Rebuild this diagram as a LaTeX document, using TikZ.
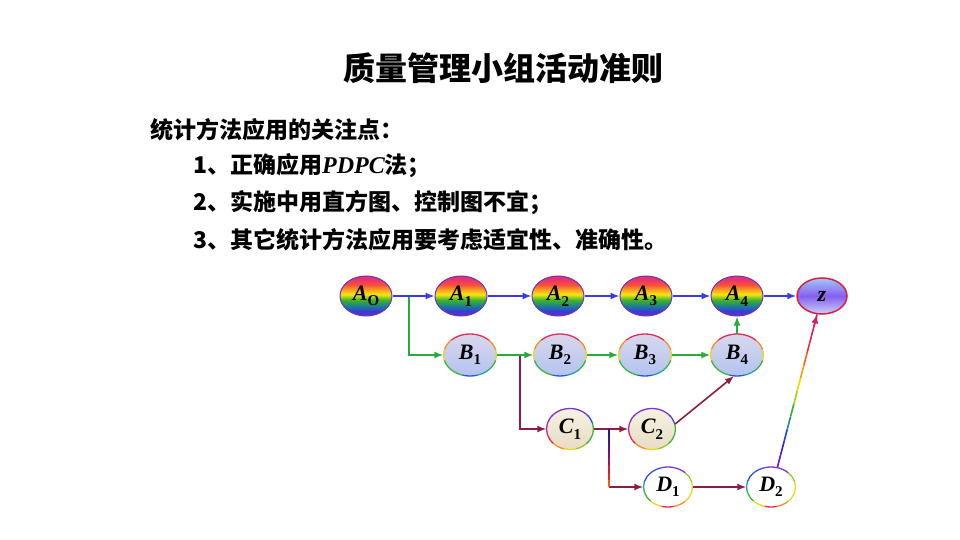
\documentclass[tikz,border=0pt]{standalone}
\usepackage{fontspec}
\setmainfont{Noto Sans CJK SC}
\newfontfamily\lblfont{Liberation Serif}
\usetikzlibrary{shapes.geometric,arrows.meta,calc}

% rainbow fill colours for A nodes (bottom to top)
\definecolor{a1}{RGB}{120,40,190}
\definecolor{a2}{RGB}{50,60,220}
\definecolor{a3}{RGB}{30,130,140}
\definecolor{a4}{RGB}{60,180,40}
\definecolor{a5}{RGB}{245,230,20}
\definecolor{a6}{RGB}{250,160,30}
\definecolor{a7}{RGB}{245,80,60}
\definecolor{a8}{RGB}{230,50,110}
\pgfdeclareverticalshading{rainA}{100bp}{color(0bp)=(a1); color(25bp)=(a1); color(31bp)=(a2); color(38bp)=(a3); color(45bp)=(a4); color(52bp)=(a5); color(58bp)=(a6); color(64bp)=(a7); color(71bp)=(a8); color(100bp)=(a8)}

% ring colours
\definecolor{rR}{RGB}{230,40,90}
\definecolor{rO}{RGB}{250,140,40}
\definecolor{rY}{RGB}{235,215,30}
\definecolor{rL}{RGB}{150,200,40}
\definecolor{rG}{RGB}{60,180,60}
\definecolor{rC}{RGB}{40,160,160}
\definecolor{rB}{RGB}{50,80,220}
\definecolor{rV}{RGB}{130,50,200}
\definecolor{rM}{RGB}{200,40,150}

% connector colours
\definecolor{cblue}{RGB}{60,60,230}
\definecolor{cgreen}{RGB}{40,170,60}
\definecolor{cmar}{RGB}{140,30,70}
\definecolor{aborder}{RGB}{110,50,190}
\definecolor{zborder}{RGB}{220,30,60}
\definecolor{ztip}{RGB}{210,30,110}

% gradient line colours
\definecolor{g1}{RGB}{110,20,200}
\definecolor{g2}{RGB}{70,30,215}
\definecolor{g3}{RGB}{40,60,220}
\definecolor{g4}{RGB}{30,140,150}
\definecolor{g5}{RGB}{40,180,60}
\definecolor{g6}{RGB}{160,210,20}
\definecolor{g7}{RGB}{240,220,0}
\definecolor{g8}{RGB}{250,160,0}
\definecolor{g9}{RGB}{245,100,20}
\definecolor{g10}{RGB}{235,50,50}
\definecolor{g11}{RGB}{220,30,90}
\definecolor{g12}{RGB}{210,30,110}
\definecolor{v1}{RGB}{40,20,150}
\definecolor{v2}{RGB}{60,20,140}
\definecolor{v3}{RGB}{90,20,130}
\definecolor{v4}{RGB}{120,20,120}
\definecolor{v5}{RGB}{160,20,100}
\definecolor{v6}{RGB}{200,30,70}
\definecolor{v7}{RGB}{235,40,30}
\definecolor{v8}{RGB}{245,90,20}

\newcommand\lbl{\lblfont\fontsize{22}{24}\selectfont}
\newcommand\lab[2]{\raisebox{-0.12em}{{\bfseries\itshape #1}\raisebox{-0.25em}{\bfseries\fontsize{15}{15}\selectfont #2}}}
\newcommand\ring[4]{%
  \foreach \col [count=\k from 0] in {#4} {%
    \pgfmathsetmacro\sa{\k*30-15}%
    \draw[\col, line width=1.3pt] ($(#1.center)+(\sa:#2 and #3)$)
      arc[start angle=\sa, delta angle=30, x radius=#2, y radius=#3];
  }}

\tikzset{
  nodeA/.style={ellipse, inner sep=0pt, minimum width=52pt, minimum height=40pt,
    shade, shading=rainA, draw=aborder, line width=1pt, font=\lbl},
  nodeB/.style={ellipse, inner sep=0pt, minimum width=53pt, minimum height=42pt,
    top color={rgb,255:red,215;green,215;blue,235}, bottom color={rgb,255:red,180;green,195;blue,242}, font=\lbl},
  nodeC/.style={ellipse, inner sep=0pt, minimum width=47pt, minimum height=41pt,
    top color={rgb,255:red,246;green,241;blue,226}, bottom color={rgb,255:red,232;green,220;blue,195}, font=\lbl},
  nodeD/.style={ellipse, inner sep=0pt, minimum width=49pt, minimum height=40pt,
    fill=white, font=\lbl},
  nodeZ/.style={ellipse, inner sep=0pt, minimum width=50pt, minimum height=36pt,
    top color={rgb,255:red,160;green,200;blue,250}, bottom color={rgb,255:red,200;green,212;blue,250},
    middle color={rgb,255:red,135;green,95;blue,238}, draw=zborder, line width=1.5pt, font=\lbl},
  conn/.style={line width=1.6pt, -{Latex[length=9pt,width=7pt]}},
  bl/.style={conn, draw=cblue},
  gr/.style={conn, draw=cgreen},
  mr/.style={conn, draw=cmar},
  txt/.style={anchor=west, inner sep=0pt, font=\fontsize{23}{27}\selectfont\bfseries},
}

\begin{document}
\begin{tikzpicture}[x=1pt,y=1pt]
\useasboundingbox (0,0) rectangle (960,-540);
\fill[white] (0,0) rectangle (960,-540);

% texts
\node[inner sep=0pt, font=\fontsize{32}{38}\selectfont\bfseries] (title) at (503,-68) {质量管理小组活动准则};
\node[txt] (h0) at (150,-130) {统计方法应用的关注点：};
\node[txt] (h1) at (193,-166) {1、正确应用{\lblfont\bfseries\itshape\fontsize{24}{27}\selectfont PDPC}法；};
\node[txt] (h2) at (193,-203) {2、实施中用直方图、控制图不宜；};
\node[txt] (h3) at (193,-240) {3、其它统计方法应用要考虑适宜性、准确性。};

% nodes
\node[nodeA] (A0) at (366,-296) {\lab{A}{O}};
\node[nodeA] (A1) at (461,-296) {\lab{A}{1}};
\node[nodeA] (A2) at (558,-296) {\lab{A}{2}};
\node[nodeA] (A3) at (646,-296) {\lab{A}{3}};
\node[nodeA] (A4) at (737,-296) {\lab{A}{4}};
\node[nodeZ] (Z) at (822,-296) {{\bfseries\itshape z}};
\node[nodeB] (B1) at (470,-355) {\lab{B}{1}};
\node[nodeB] (B2) at (560,-355) {\lab{B}{2}};
\node[nodeB] (B3) at (645,-355) {\lab{B}{3}};
\node[nodeB] (B4) at (737,-355) {\lab{B}{4}};
\node[nodeC] (C1) at (570,-429) {\lab{C}{1}};
\node[nodeC] (C2) at (652,-429) {\lab{C}{2}};
\node[nodeD] (D1) at (668,-487) {\lab{D}{1}};
\node[nodeD] (D2) at (771,-487) {\lab{D}{2}};

% rainbow rims
\foreach \n in {B1,B2,B3,B4}
  {\ring{\n}{26.5}{21}{rY,rO,rR,rR,rR,rO,rY,rG,rG,rB,rC,rG}}
\foreach \n in {C1,C2}
  {\ring{\n}{23.5}{20.5}{rG,rB,rV,rV,rV,rV,rM,rR,rO,rY,rL,rG}}
\foreach \n in {D1,D2}
  {\ring{\n}{24.5}{20}{rY,rL,rV,rV,rB,rB,rC,rG,rY,rR,rO,rY}}

% junction points
\coordinate (j1) at (409,-296);
\coordinate (j2) at (520,-355);
\coordinate (j3) at (609,-429);
\coordinate (j4) at (609,-487);

% connectors
\draw[gr] (j1) |- (B1.west);
\draw[bl] (A0) -- (A1);
\draw[bl] (A1) -- (A2);
\draw[bl] (A2) -- (A3);
\draw[bl] (A3) -- (A4);
\draw[bl] (A4) -- (Z);
\draw[mr] (j2) |- (C1.west);
\draw[gr] (B1) -- (B2);
\draw[gr] (B2) -- (B3);
\draw[gr] (B3) -- (B4);
\draw[gr] (B4) -- (A4);
\draw[mr] (C1) -- (C2);
\draw[mr] (C2.12) -- (B4.262);
\draw[mr] (j4) -- (D1.west);
\draw[mr] (D1) -- (D2);

% vertical gradient line C1-C2 -> D1
\foreach \c [count=\i from 0, evaluate=\i as \j using \i+1] in {v1,v2,v3,v4,v5,v6,v7,v8}
  {\draw[\c, line width=1.8pt] ($(j3)!\i/8!(j4)$) -- ($(j3)!\j/8!(j4)$);}

% gradient line D2 -> Z
\coordinate (s) at (D2.72);
\coordinate (e) at (Z.255);
\foreach \c [count=\i from 0, evaluate=\i as \j using \i+1] in {g1,g2,g3,g4,g5,g6,g7,g8,g9,g10,g11,g12}
  {\draw[\c, line width=1.6pt] ($(s)!\i/12!(e)$) -- ($(s)!\j/12!(e)$);}
\draw[conn, draw=ztip] ($(s)!0.92!(e)$) -- (e);
\end{tikzpicture}
\end{document}
